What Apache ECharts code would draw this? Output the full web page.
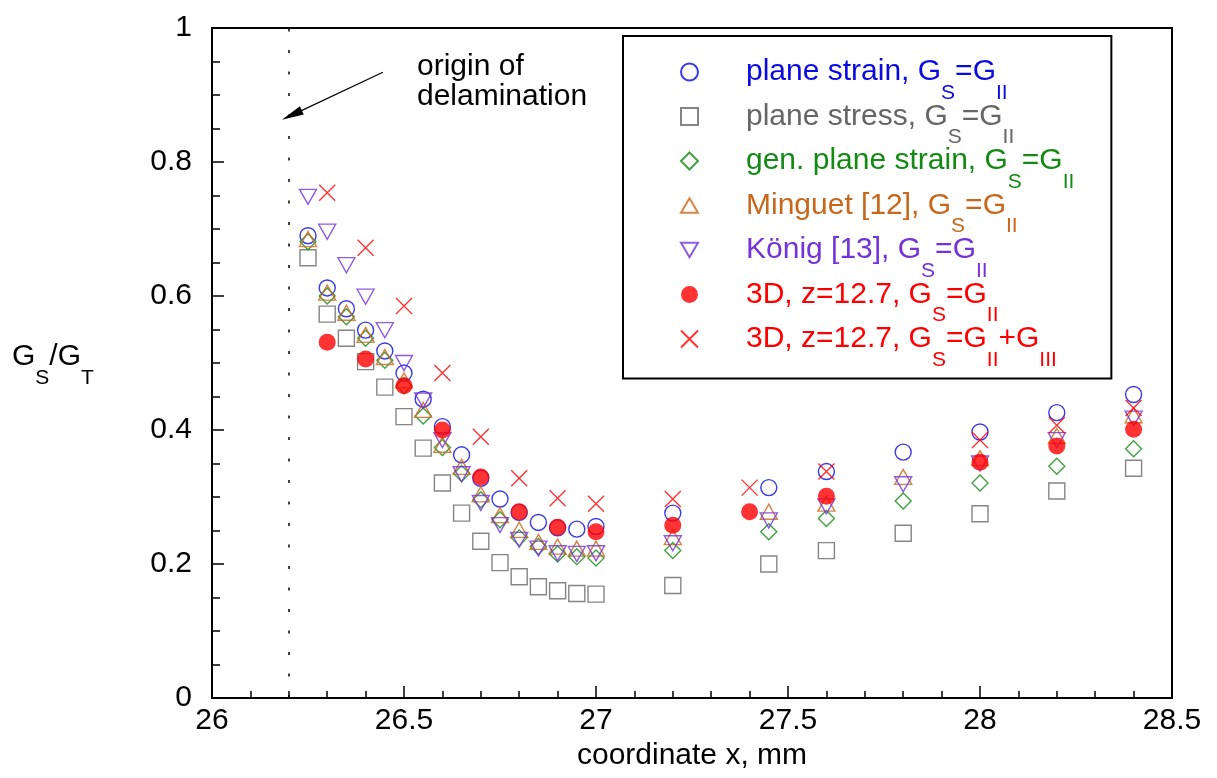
<!DOCTYPE html>
<html>
<head>
    <meta charset="utf-8" />
    <title>GS/GT</title>
    <script src="https://cdn.jsdelivr.net/npm/echarts@6/dist/echarts.min.js"></script>
    <style>
        html, body { margin: 0; padding: 0; background: #fff; }
        #main { width: 1217px; height: 778px; }
    </style>
</head>
<body>
    <div id="main"></div>
    <script type="text/javascript">
        // x positions
        var xOpen = [26.25, 26.3, 26.35, 26.4, 26.45, 26.5, 26.55, 26.6, 26.65, 26.7, 26.75, 26.8,
                     26.85, 26.9, 26.95, 27.0, 27.2, 27.45, 27.6, 27.8, 28.0, 28.2, 28.4];
        var x3D = [26.3, 26.4, 26.5, 26.6, 26.7, 26.8, 26.9, 27.0, 27.2, 27.4, 27.6, 28.0, 28.2, 28.4];

        // GS/GT values
        var planeStrain = [0.690, 0.612, 0.581, 0.549, 0.518, 0.485, 0.446, 0.405, 0.363, 0.328, 0.297, 0.277,
                           0.262, 0.254, 0.252, 0.256, 0.276, 0.314, 0.338, 0.367, 0.397, 0.426, 0.453];
        var planeStress = [0.657, 0.573, 0.537, 0.502, 0.464, 0.420, 0.373, 0.321, 0.276, 0.234, 0.202, 0.181,
                           0.166, 0.160, 0.156, 0.155, 0.168, 0.200, 0.220, 0.246, 0.275, 0.309, 0.343];
        var genPlaneStrain = [0.681, 0.600, 0.569, 0.537, 0.504, 0.466, 0.421, 0.374, 0.335, 0.296, 0.266, 0.239,
                              0.226, 0.215, 0.211, 0.209, 0.220, 0.248, 0.268, 0.294, 0.321, 0.346, 0.372];
        var minguet = [0.685, 0.605, 0.575, 0.542, 0.509, 0.474, 0.430, 0.378, 0.345, 0.304, 0.273, 0.251,
                       0.233, 0.226, 0.223, 0.223, 0.240, 0.278, 0.290, 0.330, 0.358, 0.391, 0.422];
        var koenig = [0.748, 0.696, 0.646, 0.599, 0.549, 0.500, 0.444, 0.385, 0.334, 0.291, 0.258, 0.236,
                      0.223, 0.216, 0.215, 0.216, 0.231, 0.265, 0.286, 0.319, 0.350, 0.385, 0.417];
        var full3D = [0.531, 0.506, 0.466, 0.400, 0.330, 0.278, 0.255, 0.248, 0.258, 0.278, 0.301, 0.352, 0.376, 0.401];
        var full3DIII = [0.754, 0.672, 0.585, 0.485, 0.390, 0.328, 0.298, 0.290, 0.297, 0.314, 0.338, 0.385, 0.407, 0.433];

        var seriesNames = ['plane strain', 'plane stress', 'gen. plane strain', 'Minguet [12]', 'König [13]',
                           '3D, z=12.7', '3D, z=12.7, III'];
        var legendLabels = [
            '{a|plane strain, G}{s|S}{a|=G}{s|II}',
            '{a|plane stress, G}{s|S}{a|=G}{s|II}',
            '{a|gen. plane strain, G}{s|S}{a|=G}{s|II}',
            '{a|Minguet [12], G}{s|S}{a|=G}{s|II}',
            '{a|König [13], G}{s|S}{a|=G}{s|II}',
            '{a|3D, z=12.7, G}{s|S}{a|=G}{s|II}',
            '{a|3D, z=12.7, G}{s|S}{a|=G}{s|II}{a|+G}{s|III}'
        ];
        var colors = ['#0a0ae0', '#666666', '#138a13', '#c8671a', '#7333d8', '#ff0000', '#ff0000'];

        function pairs(xs, ys) {
            return xs.map(function (x, i) { return [x, ys[i]]; });
        }

        var FONT = '"Liberation Sans", Arial, Helvetica, sans-serif';
        var rich = {
            a: { fontSize: 30, lineHeight: 63, verticalAlign: 'middle', fontFamily: FONT },
            s: { fontSize: 21, lineHeight: 21, verticalAlign: 'bottom', fontFamily: FONT }
        };

        function hollow(i) {
            return { color: 'rgba(0,0,0,0)', borderColor: colors[i], borderWidth: 1.4 };
        }

        var myChart = echarts.init(document.getElementById('main'), null, { renderer: 'canvas' });
        var option = {
            animation: false,
            textStyle: { fontFamily: FONT },
            grid: {
                left: 212, right: 45, top: 28, bottom: 80,
                show: true, borderColor: '#000', borderWidth: 2
            },
            xAxis: {
                type: 'value', min: 26, max: 28.5, interval: 0.5,
                name: 'coordinate x, mm', nameLocation: 'middle', nameGap: 42,
                nameTextStyle: { fontSize: 30, color: '#000', fontFamily: FONT },
                axisLine: { lineStyle: { color: '#000', width: 2 } },
                axisTick: { inside: true, length: 12, lineStyle: { color: '#000', width: 1.5 } },
                minorTick: { show: true, splitNumber: 5, length: 7, lineStyle: { color: '#000', width: 1.5 } },
                axisLabel: { fontSize: 30, color: '#000', margin: 8, fontFamily: FONT },
                splitLine: { show: false }
            },
            yAxis: {
                type: 'value', min: 0, max: 1, interval: 0.2,
                axisLine: { lineStyle: { color: '#000', width: 2 } },
                axisTick: { inside: true, length: 12, lineStyle: { color: '#000', width: 1.5 } },
                minorTick: { show: true, splitNumber: 4, length: 8, lineStyle: { color: '#000', width: 1.5 } },
                axisLabel: { fontSize: 30, color: '#000', margin: 20, fontFamily: FONT },
                splitLine: { show: false }
            },
            legend: {
                orient: 'vertical', left: 623, top: 36,
                padding: [21, 37, 8, 57],
                itemGap: -2, itemWidth: 17, itemHeight: 17,
                borderColor: '#000', borderWidth: 2,
                selectedMode: false,
                data: seriesNames.map(function (n, i) {
                    return { name: n, textStyle: { color: colors[i] } };
                }),
                formatter: function (name) {
                    return legendLabels[seriesNames.indexOf(name)];
                },
                textStyle: { fontSize: 30, fontFamily: FONT, padding: [0, 0, 0, 43], rich: rich }
            },
            graphic: [
                {
                    type: 'text', left: 12, top: 342,
                    style: { text: '{a|G}{s|S}{a|/G}{s|T}', fill: '#000', rich: rich }
                },
                {
                    type: 'text', left: 417, top: 52,
                    style: {
                        text: 'origin of\ndelamination', fill: '#000',
                        font: '30px ' + FONT, lineHeight: 30
                    }
                }
            ],
            series: [
                {
                    name: seriesNames[0], type: 'scatter', data: pairs(xOpen, planeStrain),
                    symbol: 'circle', symbolSize: 16, itemStyle: hollow(0),
                    markLine: {
                        silent: true, symbol: ['none', 'none'], label: { show: false },
                        data: [
                            { xAxis: 26.2, lineStyle: { color: '#000', width: 1.5, type: [3, 18.5] } },
                            [
                                { coord: [26.445, 0.934], symbol: 'none', lineStyle: { color: '#000', width: 1.2, type: 'solid' } },
                                { coord: [26.208, 0.870], symbol: 'triangle', symbolSize: [9, 22] }
                            ]
                        ]
                    }
                },
                {
                    name: seriesNames[1], type: 'scatter', data: pairs(xOpen, planeStress),
                    symbol: 'rect', symbolSize: 16, itemStyle: hollow(1)
                },
                {
                    name: seriesNames[2], type: 'scatter', data: pairs(xOpen, genPlaneStrain),
                    symbol: 'diamond', symbolSize: 16, itemStyle: hollow(2)
                },
                {
                    name: seriesNames[3], type: 'scatter', data: pairs(xOpen, minguet),
                    symbol: 'path://M5,0L10,8.66L0,8.66Z', symbolSize: [17, 15], itemStyle: hollow(3)
                },
                {
                    name: seriesNames[4], type: 'scatter', data: pairs(xOpen, koenig),
                    symbol: 'path://M0,0L10,0L5,8.66Z', symbolSize: [17, 15], itemStyle: hollow(4)
                },
                {
                    name: seriesNames[5], type: 'scatter', data: pairs(x3D, full3D),
                    symbol: 'circle', symbolSize: 17, itemStyle: { color: colors[5] }
                },
                {
                    name: seriesNames[6], type: 'scatter', data: pairs(x3D, full3DIII),
                    symbol: 'path://M0,0L10,10M10,0L0,10', symbolSize: 16,
                    itemStyle: { color: 'rgba(0,0,0,0)', borderColor: colors[6], borderWidth: 1.4 }
                }
            ]
        };
        myChart.setOption(option);
    </script>
</body>
</html>
